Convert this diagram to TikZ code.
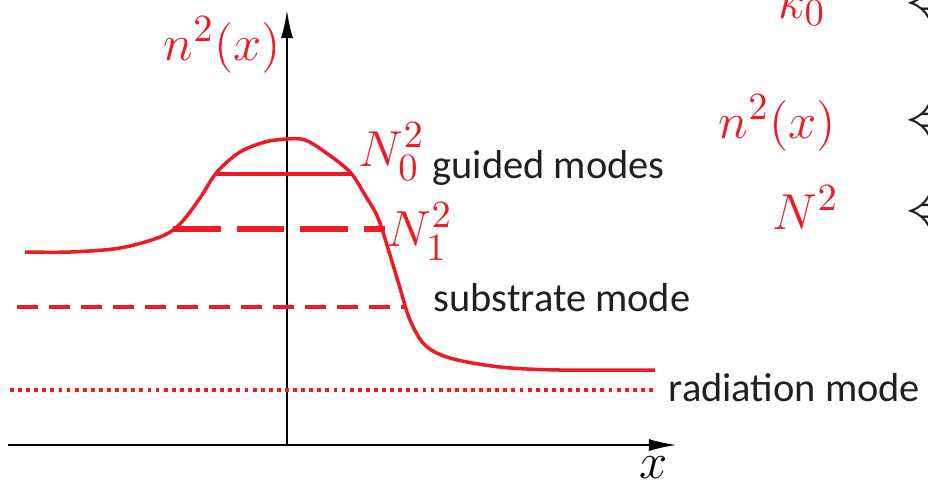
\documentclass[tikz,border=0pt]{standalone}
\usepackage{amsmath}
\usepackage{fontspec}
\setsansfont{Carlito}
\usetikzlibrary{arrows.meta}
\definecolor{profred}{RGB}{237,28,36}
\definecolor{txtgray}{RGB}{35,31,32}
\begin{document}
\begin{tikzpicture}[x=0.01cm, y=-0.01cm,
	redlab/.style={text=profred, font=\fontsize{15.5}{18}\selectfont, inner sep=0pt},
	modelab/.style={text=txtgray, font=\sffamily\fontsize{11.5}{14}\selectfont, inner sep=0pt},
	axis/.style={black, line width=0.6pt, -{Latex[length=0.28cm, width=0.12cm]}}]
	\useasboundingbox (0,0) rectangle (928,484);
	\clip (0,0) rectangle (928,484);
	% axes
	\coordinate (xl) at (8,445);
	\coordinate (xr) at (677,445);
	\coordinate (yb) at (287,444);
	\coordinate (yt) at (287,10);
	\draw[axis, line width=0.7pt] (xl) -- (xr);
	\draw[axis] (yb) -- (yt);
	\node[anchor=base, font=\fontsize{14}{16}\selectfont, inner sep=0pt] (xlab) at (654,478) {$x$};
	\node[redlab, anchor=base west] (nlab) at (163,60) {$n^2(x)$};
	% index profile
	\draw[profred, line width=1pt] plot[smooth, tension=0.55] coordinates {(25,252) (70,252) (120,248) (160,237) (180,224) (200,198) (217,172) (240,152) (265,142) (287,139) (305,140) (325,152) (350,172) (365,195) (378,218) (390,255) (400,288) (410,320) (425,345) (450,358) (500,367) (560,370) (655,370)};
	% mode levels
	\coordinate (g0l) at (215,174);
	\coordinate (g0r) at (352,174);
	\coordinate (g1l) at (173,229);
	\coordinate (g1r) at (385,229);
	\coordinate (sl) at (17,307);
	\coordinate (sr) at (405,307);
	\coordinate (rl) at (10,390);
	\coordinate (rr) at (655,390);
	\draw[profred, line width=1.3pt] (g0l) -- (g0r);
	\draw[profred, line width=1.6pt, dash pattern=on 13.6pt off 4.5pt] (g1l) -- (g1r);
	\draw[profred, line width=1.2pt, dash pattern=on 6pt off 3.1pt] (sl) -- (sr);
	\draw[profred, line width=1pt, dash pattern=on 1.1pt off 1.2pt] (rl) -- (rr);
	\node[redlab, anchor=base west] (n0lab) at (358,166) {$N_0^2$};
	\node[redlab, anchor=base west] (n1lab) at (386,246) {$N_1^2$};
	\node[modelab, anchor=base west] (guided) at (432,178) {guided modes};
	\node[modelab, anchor=base west] (substr) at (433,311) {substrate mode};
	\node[modelab, anchor=base west] (radiat) at (668,401) {radiation mode};
	% legend on the right
	\node[redlab, anchor=base west] (klab) at (778,18) {$k_0$};
	\node[redlab, anchor=base west] (nxlab) at (718,138) {$n^2(x)$};
	\node[redlab, anchor=base west] (Nlab) at (772,229) {$N^2$};
	\foreach \yy/\nm in {7/ak, 124/an, 215/aN}
		\node[anchor=west, inner sep=0pt, font=\fontsize{17}{20}\selectfont, text=txtgray] (\nm) at (905,\yy) {$\Leftarrow$};
\end{tikzpicture}
\end{document}
